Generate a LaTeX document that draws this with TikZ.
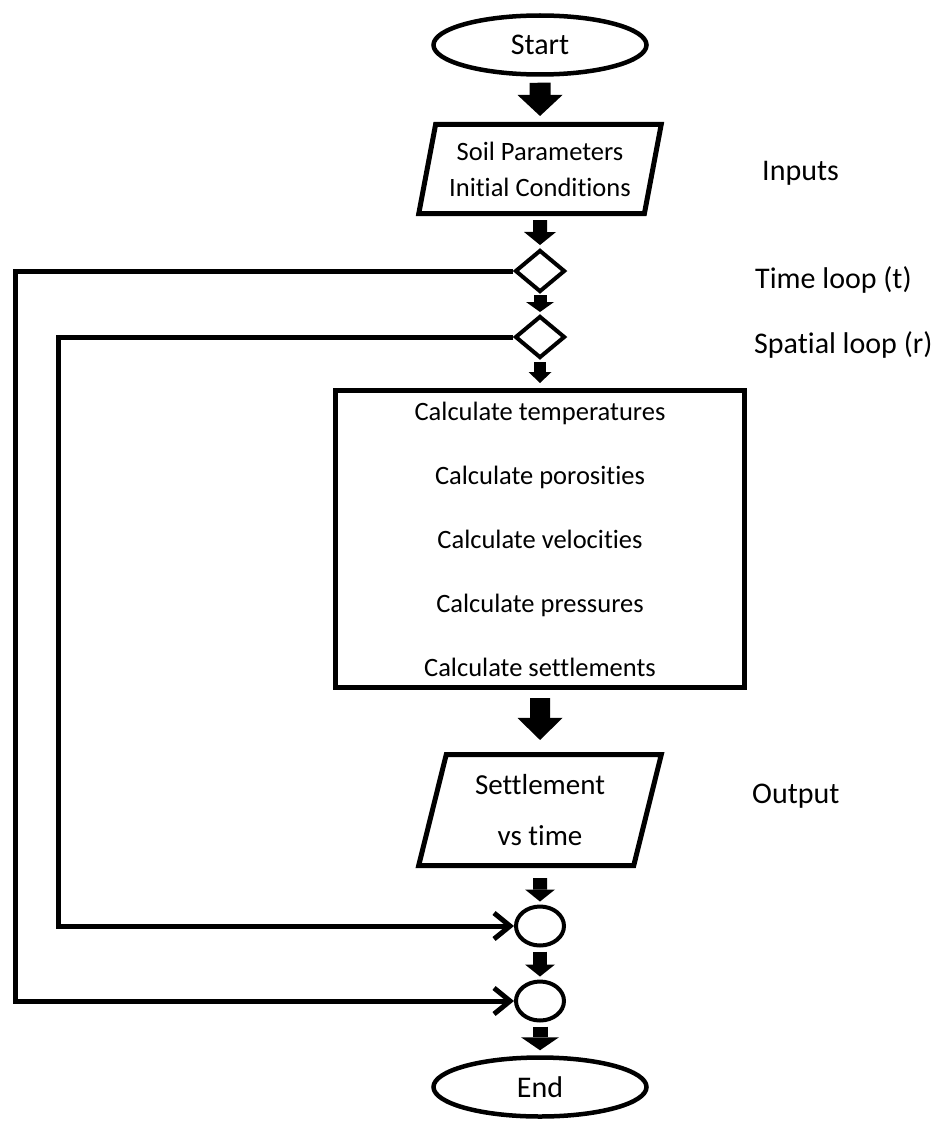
\documentclass[tikz,border=0pt]{standalone}
\usepackage{fontspec}
\setmainfont{Carlito}[Ligatures=NoCommon]
\usetikzlibrary{shapes.geometric,arrows.meta,positioning}
\tikzset{
  terminal/.style = {ellipse, draw, line width=4.5pt, minimum width=213pt,
    minimum height=59pt, inner sep=0pt, font=\fontsize{30}{36}\selectfont},
  io/.style = {trapezium, trapezium left angle=75, trapezium right angle=105,
    trapezium stretches=true, draw, line width=5pt, minimum width=243pt,
    align=center, inner sep=0pt},
  loopcheck/.style = {diamond, draw, line width=4pt, minimum width=50pt,
    minimum height=42pt, inner sep=0pt},
  joint/.style = {ellipse, draw, line width=4pt, minimum width=48pt,
    minimum height=39pt, inner sep=0pt},
  process/.style = {rectangle, draw, line width=5pt, minimum width=409pt,
    minimum height=297pt, align=center, inner sep=0pt,
    font=\fontsize{26.5}{64}\selectfont},
  sidenote/.style = {anchor=west, inner sep=0pt, font=\fontsize{30}{36}\selectfont},
  blockarrow/.style n args = {3}{line width=#1,
    -{Triangle[length=#2, width=#3, line width=0pt]}},
  loopline/.style = {line width=5pt, -{Straight Barb[length=16pt, width=26pt]}}
}
\begin{document}
\begin{tikzpicture}[x=1pt, y=-1pt]
\useasboundingbox (0,0) rectangle (951,1121);

% main column
\node[terminal] (start) at (540,45) {Start};
\node[io, minimum height=89pt, font=\fontsize{26.5}{36}\selectfont]
  (inputs) at (540,169) {Soil Parameters\\Initial Conditions};
\node[loopcheck] (tloop) at (540,271) {};
\node[loopcheck] (sloop) at (540,337) {};
\node[process] (calc) at (540,539) {Calculate temperatures\\Calculate porosities\\
  Calculate velocities\\Calculate pressures\\Calculate settlements};
\node[io, minimum height=111pt, font=\fontsize{29}{51}\selectfont]
  (output) at (540,810) {Settlement\\vs time};
\node[joint] (sjoin) at (540,926) {};
\node[joint] (tjoin) at (540,1001) {};
\node[terminal] (stop) at (540,1087) {End};

% side notes
\node[sidenote] (ninputs) at (762,173) {Inputs};
\node[sidenote] (ntime) at (755,280) {Time loop (t)};
\node[sidenote] (nspace) at (754,345) {Spatial loop (r)};
\node[sidenote] (noutput) at (752,796) {Output};

% flow
\draw[blockarrow={21pt}{21pt}{45pt}, shorten <=6pt, shorten >=6pt] (start.south) -- (inputs.north);
\draw[blockarrow={14pt}{13pt}{32pt}, shorten <=4pt, shorten >=3pt] (inputs.south) -- (tloop.north);
\draw[blockarrow={13pt}{10pt}{28pt}, shorten <=1pt, shorten >=2pt] (tloop.south) -- (sloop.north);
\draw[blockarrow={12pt}{11pt}{23pt}, shorten <=2pt, shorten >=5pt] (sloop.south) -- (calc.north);
\draw[blockarrow={20pt}{22pt}{45pt}, shorten <=8pt, shorten >=12pt] (calc.south) -- (output.north);
\draw[blockarrow={14pt}{12pt}{30pt}, shorten <=10pt, shorten >=3pt] (output.south) -- (sjoin.north);
\draw[blockarrow={14pt}{12pt}{30pt}, shorten <=4pt, shorten >=3pt] (sjoin.south) -- (tjoin.north);
\draw[blockarrow={15pt}{13pt}{38pt}, shorten <=4pt, shorten >=5pt] (tjoin.south) -- (stop.north);

% loops back
\coordinate (tleft) at (15,0);
\coordinate (sleft) at (58,0);
\draw[loopline] (tloop.west) -- (tloop.west -| tleft) |- (tjoin.west);
\draw[loopline] (sloop.west) -- (sloop.west -| sleft) |- (sjoin.west);

\end{tikzpicture}
\end{document}
